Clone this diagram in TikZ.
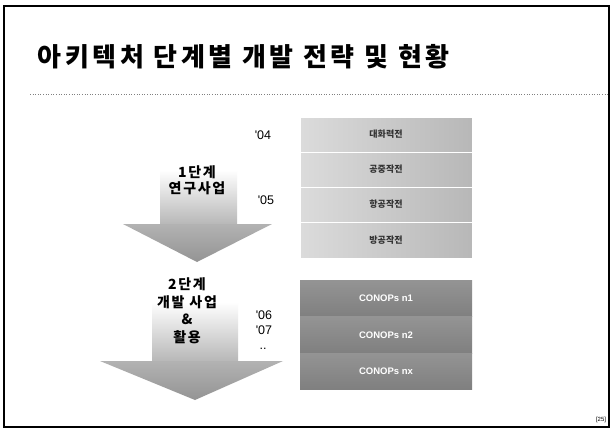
\documentclass[tikz,border=0pt]{standalone}
\usepackage{fontspec}
\setmainfont{Noto Sans CJK KR}
\newfontfamily\latinfont{Liberation Sans}
\newfontfamily\widefont[LetterSpace=12]{Noto Sans CJK KR}
\newfontfamily\titlefont[LetterSpace=14]{Noto Sans CJK KR}

\tikzset{
  planband/.style={left color=black!14, right color=black!28, draw=white, line width=1pt},
  conopsband/.style={top color=black!42, bottom color=black!50},
  bandtext/.style={font=\fontsize{9}{10}\selectfont\bfseries, text=black!80},
  conopstext/.style={font=\latinfont\bfseries\fontsize{9.5}{10}\selectfont, text=white},
  stagetext/.style={font=\widefont\bfseries\fontsize{14}{16}\selectfont, align=center},
  yeartext/.style={font=\latinfont\fontsize{12.5}{13}\selectfont}
}

\begin{document}
\begin{tikzpicture}[x=1pt,y=-1pt]
	\useasboundingbox (0,0) rectangle (611,429);
	\fill[white] (0,0) rectangle (611,429);
	\draw[line width=1.2pt] (4,6) rectangle (609,427);

	% title
	\node[font=\titlefont\bfseries\fontsize{26}{26}\selectfont, anchor=west] (title) at (34,57) {아키텍처 단계별 개발 전략 및 현황};
	\draw[gray, dotted, line width=0.6pt] (30,94) -- (608,94);

	% stage 1 bands
	\shade[planband] (300,117) rectangle ++(172,35) node[pos=.5, bandtext] (daehwa) {대화력전};
	\shade[planband] (300,152) rectangle ++(172,35) node[pos=.5, bandtext] (gongjung) {공중작전};
	\shade[planband] (300,187) rectangle ++(172,35) node[pos=.5, bandtext] (hanggong) {항공작전};
	\shade[planband] (300,222) rectangle ++(172,36) node[pos=.5, bandtext] (banggong) {방공작전};

	% stage 2 bands
	\shade[conopsband] (300,280) rectangle ++(172,36.5) node[pos=.5, conopstext] (con1) {CONOPs n1};
	\shade[conopsband] (300,316.5) rectangle ++(172,36.5) node[pos=.5, conopstext] (con2) {CONOPs n2};
	\shade[conopsband] (300,353) rectangle ++(172,36) node[pos=.5, conopstext] (conx) {CONOPs nx};

	% stage 1 arrow
	\shade[top color=white, bottom color=black!28] (160,170) rectangle (237,224);
	\shade[top color=black!30, bottom color=black!42] (123,224) -- (272,224) -- (197,262) -- cycle;
	\node[stagetext] (stage1) at (197,180) {1단계\\연구사업};
	\node[yeartext] (y04) at (263,135) {'04};
	\node[yeartext] (y05) at (266,200) {'05};

	% stage 2 arrow
	\shade[top color=white, bottom color=black!28] (152,302) rectangle (238,361);
	\shade[top color=black!30, bottom color=black!42] (100,361) -- (283,361) -- (195,400) -- cycle;
	\node[stagetext, font=\widefont\bfseries\fontsize{14}{17.5}\selectfont] (stage2) at (187,311) {2단계\\개발 사업\\\&\\활용};
	\node[yeartext] (y06) at (264,315) {'06};
	\node[yeartext] (y07) at (264,330) {'07};
	\node[yeartext] (ydots) at (263,349) {..};

	\node[font=\latinfont\fontsize{6}{6}\selectfont] (page) at (601,420) {[25]};
\end{tikzpicture}
\end{document}
